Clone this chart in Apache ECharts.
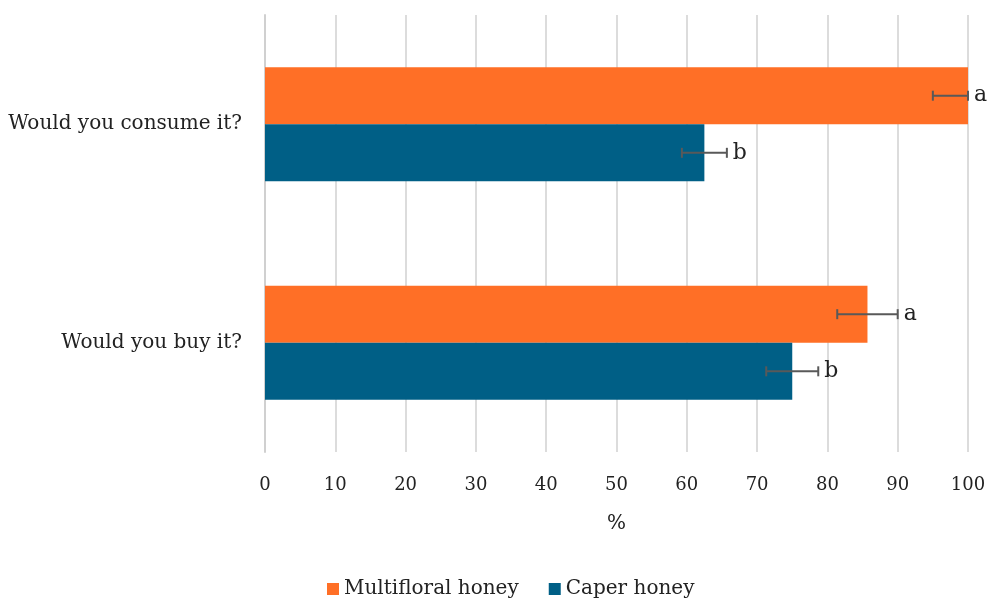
<!DOCTYPE html>
<html>
<head>
<meta charset="utf-8">
<script src="https://cdn.jsdelivr.net/npm/echarts@6/dist/echarts.min.js"></script>
<style>html,body{margin:0;padding:0;background:#fff}#c{width:989px;height:602px}</style>
</head>
<body>
<div id="c"></div>
<script>
const categories = ['Would you consume it?', 'Would you buy it?'];
const seriesNames = ['Multifloral honey', 'Caper honey'];
const multifloral = [100, 85.7];
const caper = [62.5, 75.0];
const multifloralErr = [5.0, 4.3];
const caperErr = [3.2, 3.7];
const multifloralLetters = ['a', 'a'];
const caperLetters = ['b', 'b'];
const xTicks = [0, 10, 20, 30, 40, 50, 60, 70, 80, 90, 100];

const FONT = 'DejaVu Serif';
const ORANGE = '#FF6F26';
const BLUE = '#005F86';
const BAR_FRAC = 57 / 218;

function errSeries(name, values, errs, letters, side) {
  const data = values.map((v, i) => [v, i, errs[i], letters[i]]);
  return {
    type: 'custom',
    name: name + ' err',
    z: 10,
    silent: true,
    renderItem: function (params, api) {
      const v = api.value(0), idx = api.value(1), e = api.value(2);
      const letter = data[params.dataIndex][3];
      const band = api.size([0, 1])[1];
      const bw = band * BAR_FRAC;
      const c = api.coord([v, idx]);
      const y = c[1] + side * bw / 2;
      const lo = api.coord([Math.max(v - e, 0), idx])[0];
      const hiV = Math.min(v + e, 100);
      const hi = api.coord([hiV, idx])[0];
      const capH = 5;
      const st = { stroke: '#595959', lineWidth: 2 };
      return {
        type: 'group',
        children: [
          { type: 'line', shape: { x1: lo, y1: y, x2: hi, y2: y }, style: st },
          { type: 'line', shape: { x1: lo, y1: y - capH, x2: lo, y2: y + capH }, style: st },
          { type: 'line', shape: { x1: hi, y1: y - capH, x2: hi, y2: y + capH }, style: st },
          { type: 'text', style: { text: letter, x: hi + 6, y: y, verticalAlign: 'middle', align: 'left',
              font: '22px "' + FONT + '"', fill: '#222' } }
        ]
      };
    },
    data: data
  };
}

const chart = echarts.init(document.getElementById('c'));
chart.setOption({
  animation: false,
  backgroundColor: '#fff',
  textStyle: { fontFamily: FONT },
  grid: { left: 265, right: 21, top: 15, bottom: 150 },
  legend: {
    data: seriesNames,
    bottom: -2,
    left: 322,
    itemWidth: 12,
    itemHeight: 12,
    itemGap: 30,
    icon: 'rect',
    textStyle: { fontFamily: FONT, fontSize: 20, color: '#222' }
  },
  xAxis: {
    type: 'value',
    min: xTicks[0],
    max: xTicks[xTicks.length - 1],
    interval: 10,
    name: '%',
    nameLocation: 'middle',
    nameGap: 62,
    nameTextStyle: { fontFamily: FONT, fontSize: 20, color: '#222' },
    axisLine: { show: false },
    axisTick: { show: false },
    axisLabel: { margin: 24, fontFamily: FONT, fontSize: 18, color: '#222' },
    splitLine: { show: true, lineStyle: { color: '#dcdcdc', width: 2 } }
  },
  yAxis: {
    type: 'category',
    data: categories,
    inverse: true,
    axisLine: { show: true, lineStyle: { color: '#d0d0d0', width: 2 } },
    axisTick: { show: false },
    axisLabel: { margin: 23, fontFamily: FONT, fontSize: 20, color: '#222' }
  },
  series: [
    { type: 'bar', name: seriesNames[0], data: multifloral, itemStyle: { color: ORANGE },
      barWidth: '26.1%', barGap: '0%' },
    { type: 'bar', name: seriesNames[1], data: caper, itemStyle: { color: BLUE },
      barWidth: '26.1%', barGap: '0%' },
    errSeries(seriesNames[0], multifloral, multifloralErr, multifloralLetters, -1),
    errSeries(seriesNames[1], caper, caperErr, caperLetters, 1)
  ]
});
</script>
</body>
</html>
